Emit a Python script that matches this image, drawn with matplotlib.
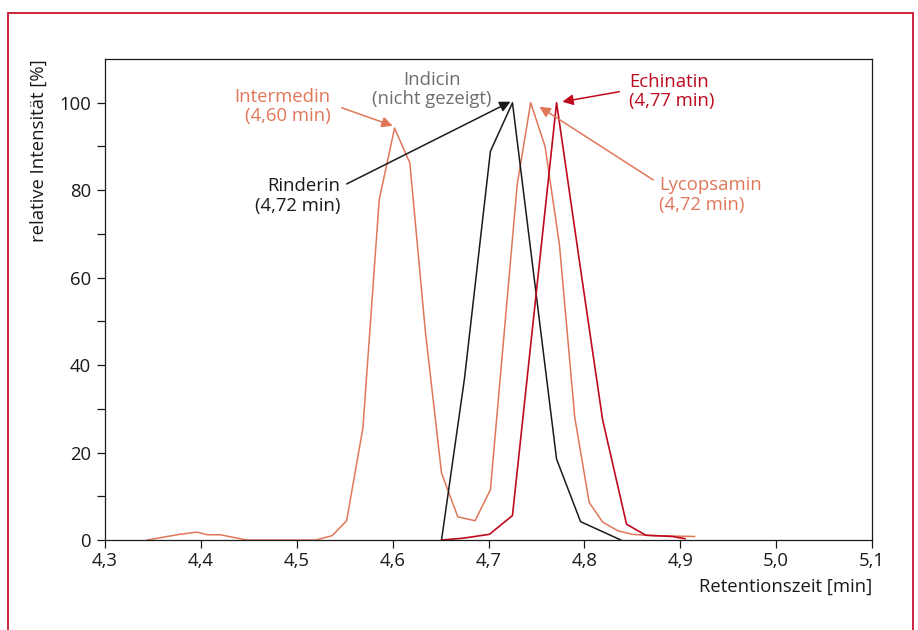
import matplotlib
matplotlib.use("Agg")
import matplotlib.pyplot as plt
from matplotlib.patches import Rectangle
from matplotlib.ticker import FixedLocator

plt.rcParams['font.family'] = ['Open Sans', 'DejaVu Sans']

# Intermedin / Lycopsamin (salmon trace)
salmon_t = [4.344, 4.378, 4.396, 4.407, 4.420, 4.448, 4.520, 4.537, 4.552, 4.569,
            4.586, 4.602, 4.618, 4.634, 4.651, 4.668, 4.686, 4.702, 4.730, 4.744,
            4.759, 4.774, 4.790, 4.805, 4.819, 4.835, 4.850, 4.870, 4.915]
salmon_y = [0.0, 1.3, 1.8, 1.2, 1.2, 0.0, 0.0, 1.0, 4.4, 25.6,
            77.8, 94.2, 86.2, 48.0, 15.3, 5.3, 4.4, 11.5, 81.4, 100.0,
            90.0, 67.5, 28.0, 8.6, 4.1, 2.1, 1.3, 1.0, 0.8]

# Rinderin (black trace)
rind_t = [4.651, 4.675, 4.702, 4.725, 4.771, 4.796, 4.838]
rind_y = [0.0, 37.0, 88.9, 100.0, 18.5, 4.2, 0.0]

# Echinatin (dark red trace)
echi_t = [4.651, 4.673, 4.701, 4.725, 4.771, 4.796, 4.819, 4.844, 4.864, 4.892, 4.905]
echi_y = [0.0, 0.4, 1.3, 5.6, 100.0, 62.0, 27.5, 3.6, 1.1, 0.8, 0.3]

x_ticks = [4.3, 4.4, 4.5, 4.6, 4.7, 4.8, 4.9, 5.0, 5.1]
x_tick_labels = ['4,3', '4,4', '4,5', '4,6', '4,7', '4,8', '4,9', '5,0', '5,1']
y_ticks = [0, 20, 40, 60, 80, 100]

SALMON = '#E0775A'
DARKRED = '#BE0A1E'
GRAY = '#6E6E6E'
FS = 13.3

fig = plt.figure(figsize=(9.18, 6.30), dpi=100)
ax = fig.add_axes([105/918, 1-540/630, (872-105)/918, (540-59)/630])

ax.plot(salmon_t, salmon_y, color=SALMON, lw=1.1)
ax.plot(rind_t, rind_y, color='#1a1a1a', lw=1.1)
ax.plot(echi_t, echi_y, color=DARKRED, lw=1.2)

ax.set_xlim(4.3, 5.1)
ax.set_ylim(0, 110)
ax.set_xticks(x_ticks)
ax.set_xticklabels(x_tick_labels)
ax.set_yticks(y_ticks)
ax.yaxis.set_minor_locator(FixedLocator([10, 30, 50, 70, 90]))
ax.tick_params(axis='both', which='both', direction='out', length=6, width=0.9,
               labelsize=FS, colors='#1a1a1a')
ax.tick_params(axis='y', which='major', pad=4)
ax.tick_params(axis='x', which='major', pad=3)
for s in ax.spines.values():
    s.set_linewidth(0.9)
    s.set_color('#1a1a1a')

ax.set_ylabel('relative Intensität [%]', loc='top', fontsize=FS, color='#1a1a1a', labelpad=8)
ax.set_xlabel('Retentionszeit [min]', loc='right', fontsize=FS, color='#1a1a1a', labelpad=5)

def px2data(px, py):
    return (4.3 + (px - 105) / 960.0, (540 - py) / 4.36)

def annotate(text, color, tip, start, ha, txt_xy):
    ax.annotate('', xy=px2data(*tip), xytext=px2data(*start),
                arrowprops=dict(arrowstyle='-|>', color=color, lw=1.1,
                                mutation_scale=16, shrinkA=0, shrinkB=0))
    ax.text(*px2data(*txt_xy), text, color=color, fontsize=FS, ha=ha, va='center',
            linespacing=1.1)

annotate('Intermedin\n(4,60 min)', SALMON, (393, 127), (342, 109), 'right', (331, 108))
annotate('Rinderin\n(4,72 min)', '#1a1a1a', (511, 103), (347, 185), 'right', (341, 197))
annotate('Echinatin\n(4,77 min)', DARKRED, (563, 103), (620, 93), 'left', (630, 93))
annotate('Lycopsamin\n(4,72 min)', SALMON, (540, 108), (654, 181), 'left', (660, 196))
ax.text(*px2data(432, 91), 'Indicin\n(nicht gezeigt)', color=GRAY, fontsize=FS,
        ha='center', va='center', linespacing=1.1)

fig.patches.append(Rectangle((7.5/918, -0.1), (913-7.5)/918, 1.1 - 13/630,
                             transform=fig.transFigure, fill=False,
                             edgecolor='#C8102E', lw=1.3))

fig.savefig('out.png', dpi=100)
